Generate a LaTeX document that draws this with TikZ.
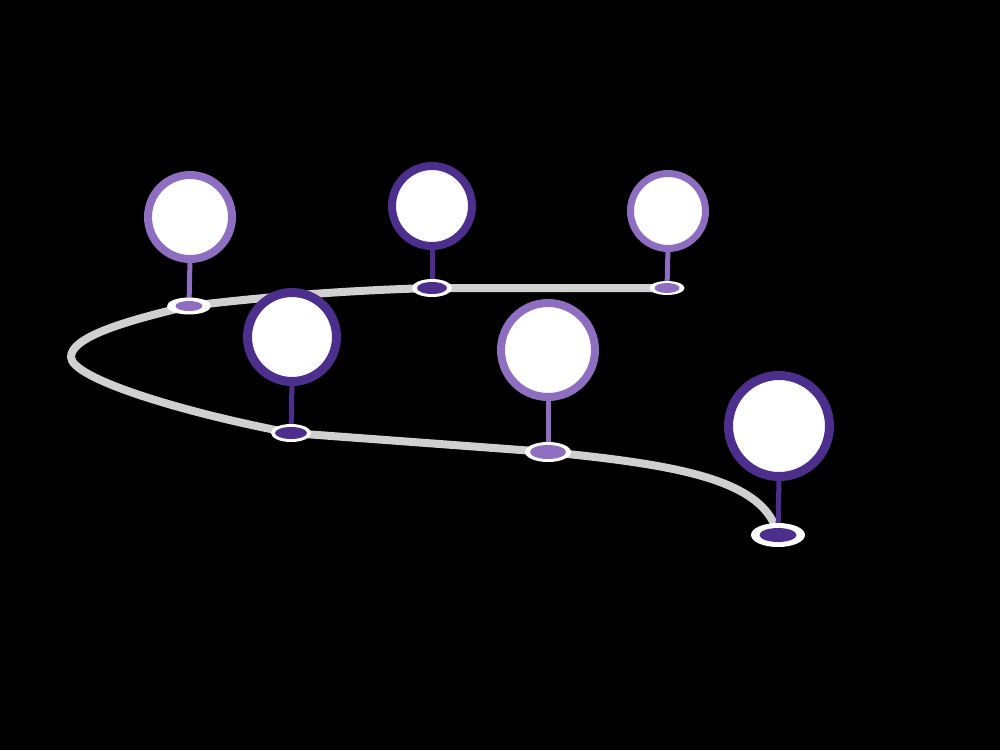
\documentclass[tikz,border=0pt]{standalone}
\usetikzlibrary{shapes.geometric}
\definecolor{lightpurple}{RGB}{142,110,192}
\definecolor{darkpurple}{RGB}{76,46,140}
\definecolor{roadgray}{RGB}{208,208,208}
\tikzset{
  pinhead/.style={circle, inner sep=0pt, outer sep=0pt, fill=white, draw=#1},
  stemline/.style={draw=#1, line width=5pt},
  baseouter/.style={ellipse, inner sep=0pt, outer sep=0pt, fill=white},
  baseinner/.style={ellipse, inner sep=0pt, outer sep=0pt, fill=#1},
  road/.style={draw=roadgray, line width=8pt, line cap=round}
}
\begin{document}
\begin{tikzpicture}[x=1pt,y=-1pt]
\fill[black] (0,0) rectangle (1000,750);
\useasboundingbox (0,0) rectangle (1000,750);
% base anchor coordinates
\coordinate (c1) at (189,306);
\coordinate (c2) at (432,288);
\coordinate (c3) at (667,288);
\coordinate (c4) at (291,433);
\coordinate (c5) at (548,452);
\coordinate (c6) at (778,535);
\coordinate (turn) at (71,357);
% road
\draw[road] (c3) -- (c2) .. controls (360,290) and (280,295) .. (c1)
  .. controls (120,322) and (71,338) .. (turn)
  .. controls (71,378) and (180,412) .. (c4)
  -- (c5) .. controls (680,465) and (765,480) .. (c6);
% heads
\node[pinhead=lightpurple, line width=8pt, minimum size=84pt] (h1) at (190,217) {};
\node[pinhead=darkpurple, line width=8pt, minimum size=80pt] (h2) at (432,206) {};
\node[pinhead=lightpurple, line width=7pt, minimum size=75pt] (h3) at (668,211) {};
\node[pinhead=darkpurple, line width=9pt, minimum size=89pt] (h4) at (292,337) {};
\node[pinhead=lightpurple, line width=8pt, minimum size=94pt] (h5) at (548,350) {};
\node[pinhead=darkpurple, line width=9pt, minimum size=101pt] (h6) at (779,426) {};
% stems
\draw[stemline=lightpurple] (h1.south) -- (c1);
\draw[stemline=darkpurple] (h2.south) -- (c2);
\draw[stemline=lightpurple] (h3.south) -- (c3);
\draw[stemline=darkpurple] (h4.south) -- (c4);
\draw[stemline=lightpurple] (h5.south) -- (c5);
\draw[stemline=darkpurple] (h6.south) -- (c6);
% bases
\node[baseouter, minimum width=44pt, minimum height=17pt] (o1) at (c1) {};
\node[baseinner=lightpurple, minimum width=27pt, minimum height=10pt] (b1) at (c1) {};
\node[baseouter, minimum width=40pt, minimum height=18pt] (o2) at (c2) {};
\node[baseinner=darkpurple, minimum width=30pt, minimum height=12pt] (b2) at (c2) {};
\node[baseouter, minimum width=35pt, minimum height=14pt] (o3) at (c3) {};
\node[baseinner=lightpurple, minimum width=25pt, minimum height=10pt] (b3) at (c3) {};
\node[baseouter, minimum width=40pt, minimum height=18pt] (o4) at (c4) {};
\node[baseinner=darkpurple, minimum width=32pt, minimum height=12pt] (b4) at (c4) {};
\node[baseouter, minimum width=46pt, minimum height=20pt] (o5) at (c5) {};
\node[baseinner=lightpurple, minimum width=36pt, minimum height=14pt] (b5) at (c5) {};
\node[baseouter, minimum width=54pt, minimum height=24pt] (o6) at (c6) {};
\node[baseinner=darkpurple, minimum width=37pt, minimum height=14pt] (b6) at (c6) {};
\end{tikzpicture}
\end{document}
